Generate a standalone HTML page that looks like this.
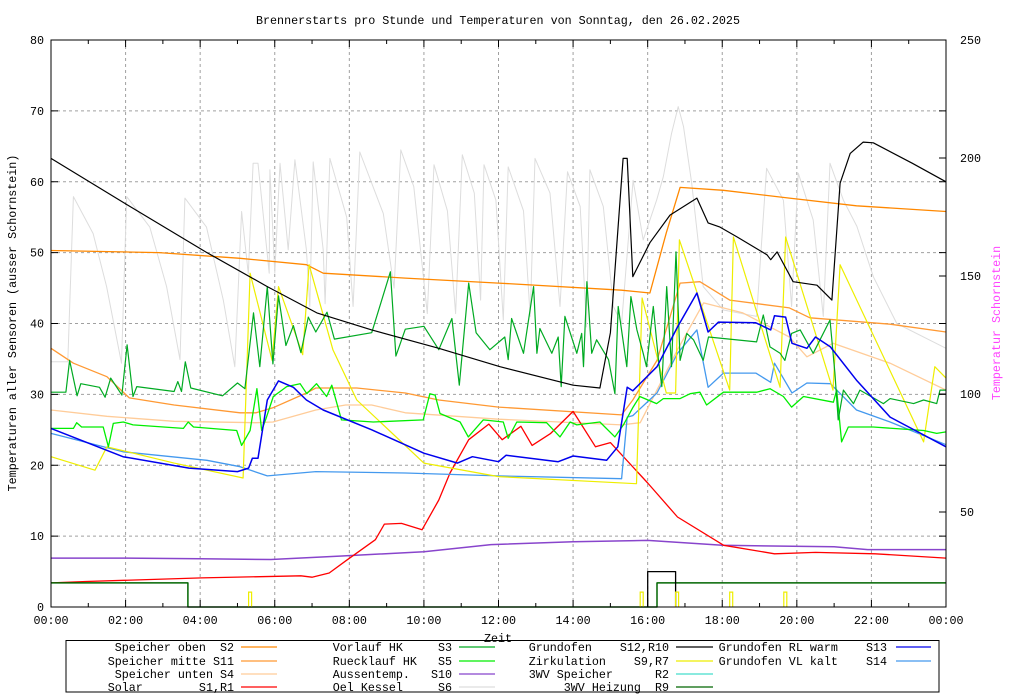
<!DOCTYPE html>
<html><head><meta charset="utf-8">
<style>
html,body{margin:0;padding:0;background:#fff;}
svg{display:block;font-family:"Liberation Mono",monospace;}
</style></head>
<body>
<svg id="chart" width="1024" height="700" viewBox="0 0 1024 700" xmlns="http://www.w3.org/2000/svg">
<rect x="0" y="0" width="1024" height="700" fill="#fff"/>
<text x="498" y="24" font-size="11.7" text-anchor="middle">Brennerstarts pro Stunde und Temperaturen von Sonntag, den 26.02.2025</text>
<g id="grid"></g>
<g id="series"></g>
<g id="axes"></g>
<text transform="translate(16,323) rotate(-90)" font-size="11.7" text-anchor="middle">Temperaturen aller Sensoren (ausser Schornstein)</text>
<text transform="translate(1000,323) rotate(-90)" font-size="11.7" fill="#ff44ff" text-anchor="middle">Temperatur Schornstein</text>
<text x="498" y="642" font-size="11.7" text-anchor="middle">Zeit</text>
<g id="legend"></g>
</svg>
<script>
// ---- data (hour, °C) ----
const xTickLabels = ["00:00","02:00","04:00","06:00","08:00","10:00","12:00","14:00","16:00","18:00","20:00","22:00","00:00"];
const yTicks = [0,10,20,30,40,50,60,70,80];
const y2Ticks = [50,100,150,200,250];

const oelKessel = [[0,34.6],[0.45,34.6],[0.6,57.9],[1.13,52.7],[1.49,45.2],[1.89,34.4],[2.03,57.9],[2.65,53.6],[3.1,45.2],[3.46,34.9],[3.59,57.7],[4.17,53.6],[4.62,43.3],[4.93,33.9],[5.11,55.8],[5.29,47],[5.42,62.6],[5.55,62.6],[5.85,47.1],[5.87,61.7],[6.0,47.1],[6.14,62.6],[6.36,50.4],[6.54,63.1],[6.85,50.4],[6.94,42.4],[7.03,62.8],[7.3,50.4],[7.35,42.8],[7.48,63.3],[7.93,55],[8.1,42.4],[8.28,64.2],[8.91,55.5],[9.2,45],[9.38,64.5],[9.73,59.3],[10.09,41.4],[10.27,62.4],[10.63,55.9],[10.85,41.4],[11.03,63.8],[11.35,58.4],[11.52,43.3],[11.61,62.4],[11.93,57.4],[12.13,40.5],[12.26,62.1],[12.67,55.9],[12.85,41],[12.98,63.3],[13.38,58.4],[13.65,42.4],[13.85,61.4],[14.19,56.5],[14.36,39.5],[14.45,61.7],[14.81,56.5],[15.08,42.4],[15.3,40],[15.61,60.2],[15.88,51.8],[16.24,57.4],[16.42,60.7],[16.64,66.8],[16.82,70.6],[16.96,67.8],[17.18,59.8],[17.49,45.2],[18.03,41.9],[18.92,41],[19.19,61.9],[19.64,57.4],[19.86,42.4],[20.04,61.2],[20.44,54.6],[20.71,41],[20.89,62.6],[21.25,57.4],[21.61,53.7],[22.05,46.6],[22.68,40],[24,36.5]];
const speicherOben = [[0,50.3],[2.9,50],[5.07,49.2],[6.85,48.3],[7.3,47.1],[9.5,46.4],[12,45.7],[15.3,44.7],[16.06,44.3],[16.5,52.8],[16.87,59.2],[18.03,58.8],[19.8,57.7],[21.6,56.6],[24,55.8]];
const speicherMitte = [[0,36.5],[0.6,34.4],[1.5,32.5],[2.1,29.5],[3.3,28.5],[5.07,27.4],[5.5,27.4],[5.95,28.1],[6.85,30.2],[7.1,30.9],[8.2,30.9],[9.5,30.2],[10.4,29.2],[12,28.2],[15.3,27.1],[15.6,29.2],[16.25,34.8],[16.87,45.7],[17.4,45.9],[18.2,43.3],[19.8,42.2],[20.35,40.8],[22.5,39.9],[24,38.8]];
const speicherUnten = [[0,27.8],[1.5,26.9],[3.3,26.2],[5.5,26],[5.95,26.1],[7.1,27.8],[7.9,28.5],[8.6,28.5],[9.5,27.4],[12,26.5],[15.3,25.7],[15.8,26],[16.15,29.6],[16.8,36.3],[17.5,42.9],[18.55,41.5],[19.8,38.1],[20.27,35.3],[20.97,37.2],[22.5,34.4],[24,30.6]];
const solar = [[0,3.4],[0.93,3.6],[4.04,4.1],[6.7,4.4],[7.0,4.2],[7.46,4.8],[7.93,6.6],[8.7,9.5],[8.94,11.7],[9.4,11.8],[9.95,10.9],[10.4,15.1],[10.7,18.9],[11.2,23.6],[11.74,25.8],[12.1,23.6],[12.6,25.5],[12.9,22.8],[13.4,24.5],[14.0,27.6],[14.6,22.6],[15.0,23.2],[16.0,17.5],[16.8,12.7],[18.04,8.7],[19.4,7.5],[20.5,7.7],[22.1,7.5],[24,6.9]];
const aussentemp = [[0,6.9],[2,6.9],[4,6.8],[5.9,6.7],[7.8,7.2],[10,7.8],[11.8,8.8],[14,9.2],[16,9.4],[18,8.7],[21,8.5],[21.9,8.1],[24,8.1]];
const vorlaufHK = [[0,30.3],[0.4,30.3],[0.5,34.8],[0.7,29.8],[0.8,31.5],[1.3,31.0],[1.45,29.6],[1.6,32.3],[1.9,29.9],[2.04,37],[2.2,29.7],[2.3,31.1],[3.3,30.4],[3.4,31.8],[3.5,30.4],[3.6,34.6],[3.75,30.9],[4.6,29.8],[5.0,31.6],[5.2,30.8],[5.43,41.5],[5.6,33.9],[5.8,45.2],[5.95,34.3],[6.1,43.9],[6.3,36.9],[6.5,39.7],[6.7,35.9],[6.9,40.9],[7.1,38.8],[7.4,41.6],[7.6,37.8],[8.6,38.7],[9.1,47.3],[9.25,35.4],[9.5,39.2],[10.0,39.6],[10.4,36.3],[10.75,40.7],[10.95,31.3],[11.2,45.7],[11.4,38.7],[11.77,36.3],[12.17,38.1],[12.26,34.9],[12.35,40.7],[12.67,35.8],[12.94,45.2],[13.03,35.8],[13.11,39.3],[13.43,35.8],[13.6,38.1],[13.68,31.1],[13.78,41],[14.1,35.8],[14.23,38.6],[14.28,33.9],[14.37,45.9],[14.5,35.8],[14.63,37.7],[14.95,34.9],[15.12,30.1],[15.21,42.4],[15.44,33.9],[15.55,43.8],[15.71,39.1],[15.88,35.8],[15.97,33.9],[16.15,42.4],[16.29,34.8],[16.38,31.1],[16.51,45.2],[16.64,33.9],[16.76,50.1],[16.87,34.8],[17.05,38.6],[17.23,37.7],[17.49,34.8],[17.63,38.1],[18.92,37.4],[19.1,41.2],[19.28,36.7],[19.55,35.8],[19.68,34.8],[19.86,38.6],[20.09,39.1],[20.44,35.8],[20.62,37.7],[20.89,40.5],[21.02,33],[21.11,26.4],[21.25,30.6],[21.52,28.7],[21.69,30.6],[22.32,28.7],[22.5,29.4],[23.13,28.7],[23.4,29.2],[23.75,28.7],[23.84,30.6],[24,30.6]];
const ruecklaufHK = [[0,25.2],[0.6,25.2],[0.69,26],[0.82,25.4],[1.4,25.4],[1.54,22.6],[1.67,25.9],[1.94,26.1],[2.2,25.7],[3.55,25.2],[3.68,26.1],[3.82,25.4],[4.98,24.9],[5.11,22.8],[5.34,24.9],[5.52,30.8],[5.65,24.9],[5.78,26.8],[5.96,29.7],[6.32,31.1],[6.68,31.5],[6.86,30.1],[7.12,31.5],[7.39,29.7],[7.53,31.3],[7.79,26.4],[8.64,26.1],[9.98,26.4],[10.16,30.1],[10.3,29.9],[10.43,27.3],[10.97,26.1],[11.19,24.0],[11.59,26.4],[12.13,26.1],[12.26,23.8],[12.49,26.1],[13.29,26],[13.65,24],[13.92,26.1],[14.1,25.7],[14.72,26.1],[15.12,24],[15.35,25.7],[15.61,28.2],[15.79,29.7],[16.24,28.7],[16.42,29.4],[16.87,29.4],[17.14,30.1],[17.4,30.3],[17.58,28.5],[18.03,30.3],[18.92,30.3],[19.28,30.8],[19.64,29.7],[19.86,28.2],[20.18,29.7],[20.98,28.9],[21.07,30.6],[21.2,23.3],[21.38,25.4],[22.05,25.4],[23.4,24.9],[23.75,24.5],[24,24.7]];
const grundofen = [[0,63.3],[1.93,57.1],[4.18,50],[5.8,45.2],[7.13,41.5],[8.6,39.1],[10.4,36.5],[12.04,33.9],[14,31.3],[14.72,30.9],[15.0,38.7],[15.34,63.3],[15.45,63.3],[15.6,46.6],[16.06,51.4],[16.6,55.3],[17.32,57.7],[17.62,54.2],[17.94,53.6],[18.4,52.2],[19.2,49.7],[19.3,49],[19.47,50.1],[19.9,45.9],[20.54,45.4],[20.94,43.3],[21.16,59.8],[21.43,64],[21.78,65.6],[22.05,65.5],[23.1,62.6],[24,60]];
const zirkulation = [[0,21.2],[1.18,19.3],[1.5,22.6],[3.3,20.3],[5.15,18.2],[5.34,47.1],[5.93,34.8],[6.1,45.2],[6.75,35.6],[6.92,48.3],[7.56,36.3],[8.2,29.2],[10,20.3],[12,18.4],[15.7,17.4],[15.85,43.6],[16.5,30.2],[16.75,30.2],[16.85,51.8],[18.2,30.6],[18.3,52.2],[19.55,31],[19.7,52.2],[20.97,30.6],[21.16,48.3],[23.4,23.3],[23.7,33.9],[24,32.3]];
const rlWarm = [[0,25.2],[1.93,21.2],[3.7,19.6],[5.0,19.1],[5.3,19.6],[5.4,21],[5.55,21],[5.8,29.2],[6.1,31.9],[6.5,31.0],[6.85,29.2],[7.3,27.8],[8.6,25],[10,21.7],[10.9,20.3],[11.3,21.2],[12,20.5],[12.2,21.4],[13.6,20.5],[14,21.3],[14.9,20.7],[15.2,22.6],[15.45,31],[15.6,30.5],[16.25,33.9],[16.8,39.5],[17.32,44.3],[17.62,38.8],[17.9,40.2],[18.9,40.1],[19.3,39.1],[19.4,41.1],[19.7,40.9],[19.87,37.2],[20.27,36.5],[20.5,38.1],[20.9,36.7],[21.6,32],[22.5,26.8],[24,22.6]];
const vlKalt = [[0,24.5],[1.93,21.9],[4.18,20.7],[5.07,19.8],[5.8,18.5],[7.1,19.1],[9.5,18.9],[12,18.5],[15.3,18.1],[15.45,26.8],[15.6,27],[16.25,30.2],[16.8,35.8],[17.32,39.1],[17.62,31],[18.03,33],[18.9,33],[19.3,31.7],[19.4,34.4],[19.87,30.2],[20.27,31.6],[20.9,31.5],[21.6,27.8],[22.5,26.1],[24,22.9]];
const heizung3WV = [[0,3.4],[3.67,3.4],[3.67,0],[16.25,0],[16.25,3.4],[24,3.4]];
const brennerR10 = [[16,0],[16,5],[16.75,5],[16.75,0]];
const zirkPulseHours = [5.3,15.8,16.75,18.2,19.65];
const zirkPulseValue = 2.1;

// ---- axes ----
const X0=51, X1=946, Y0=607, Y1=40;
const xs = h => X0 + (X1-X0)*h/24;
const ys = t => Y0 - (Y0-Y1)*t/80;
const y2s = v => 40 + (250-v)*118/50;
const NS="http://www.w3.org/2000/svg";
function mk(tag, attrs, parent){const e=document.createElementNS(NS,tag);for(const k in attrs)e.setAttribute(k,attrs[k]);parent.appendChild(e);return e;}
const grid=document.getElementById('grid'), axes=document.getElementById('axes'), ser=document.getElementById('series'), leg=document.getElementById('legend');

yTicks.forEach((t,i)=>{
  const y=ys(t);
  if(i>0&&i<yTicks.length-1){const g=mk('line',{x1:X0,x2:X1,y1:y,y2:y,stroke:'#a0a0a0','stroke-dasharray':'3,3','stroke-width':1},grid);
  
  }
  mk('line',{x1:X0,x2:X0+7,y1:y,y2:y,stroke:'#000'},axes);
  mk('line',{x1:X1,x2:X1-7,y1:y,y2:y,stroke:'#000'},axes);
  const tx=mk('text',{x:X0-7,y:y+4,'font-size':11.7,'text-anchor':'end'},axes);
  tx.textContent=t;
  
  
});
y2Ticks.forEach(v=>{
  const y=y2s(v);
  mk('line',{x1:X1,x2:X1-7,y1:y,y2:y,stroke:'#000'},axes);
  const tx=mk('text',{x:X1+14,y:y+4,'font-size':11.7},axes);
  tx.textContent=v;
  
  
});
for(let h=0;h<=24;h++){
  const x=xs(h);
  if(h%2===0){
    if(h>0&&h<24){const g=mk('line',{x1:x,x2:x,y1:Y0,y2:Y1,stroke:'#a0a0a0','stroke-dasharray':'3,3'},grid);
    
    }
    mk('line',{x1:x,x2:x,y1:Y0,y2:Y0-7,stroke:'#000'},axes);
    mk('line',{x1:x,x2:x,y1:Y1,y2:Y1+7,stroke:'#000'},axes);
    const tx=mk('text',{x:x,y:624,'font-size':11.7,'text-anchor':'middle'},axes);
    tx.textContent=xTickLabels[h/2];
    
    
  } else {
    mk('line',{x1:x,x2:x,y1:Y0,y2:Y0-4,stroke:'#000'},axes);
    mk('line',{x1:x,x2:x,y1:Y1,y2:Y1+4,stroke:'#000'},axes);
  }
}
const frame=mk('rect',{x:X0,y:Y1,width:X1-X0,height:Y0-Y1,fill:'none',stroke:'#000','stroke-width':1},axes);



function line(data,color,name,w){
  const p=mk('polyline',{points:data.map(d=>xs(d[0]).toFixed(1)+','+ys(d[1]).toFixed(1)).join(' '),fill:'none',stroke:color,'stroke-width':w||1,'stroke-linejoin':'round'},ser);
  
  
}
line(oelKessel,'#dddddd','series-oel-kessel');
line(speicherUnten,'#ffcc99','series-speicher-unten',1.3);
line(speicherMitte,'#ff9933','series-speicher-mitte',1.3);
line(speicherOben,'#ff8800','series-speicher-oben',1.3);
line(aussentemp,'#8844cc','series-aussentemp',1.5);
line(solar,'#ff0000','series-solar',1.3);
line(heizung3WV,'#006600','series-3wv-heizung',1.5);
line(brennerR10,'#000000','series-grundofen-r10',1.3);
zirkPulseHours.forEach(h=>{
  const w=0.08;
  const p=mk('polyline',{points:[[h,0],[h,zirkPulseValue],[h+w,zirkPulseValue],[h+w,0]].map(d=>xs(d[0]).toFixed(1)+','+ys(d[1]).toFixed(1)).join(' '),fill:'none',stroke:'#eeee00','stroke-width':1.2},ser);
  
  
});
line(vlKalt,'#4499ee','series-grundofen-vl-kalt',1.3);
line(zirkulation,'#eeee00','series-zirkulation',1.2);
line(ruecklaufHK,'#00ee00','series-ruecklauf-hk',1.3);
line(vorlaufHK,'#00aa22','series-vorlauf-hk',1.2);
line(rlWarm,'#0000ee','series-grundofen-rl-warm',1.5);
line(grundofen,'#000000','series-grundofen',1.2);

// ---- legend ----
const lb=mk('rect',{x:66,y:640.5,width:873,height:51.5,fill:'none',stroke:'#000'},leg);


const legendLabels=[
 ["Speicher oben  S2","Speicher mitte S11","Speicher unten S4","Solar        S1,R1"],
 ["Vorlauf HK     S3","Ruecklauf HK   S5","Aussentemp.   S10","Oel Kessel     S6"],
 ["Grundofen    S12,R10","Zirkulation    S9,R7","3WV Speicher      R2","3WV Heizung  R9"],
 ["Grundofen RL warm    S13","Grundofen VL kalt    S14"]];
const legendColors=[["#ff8800","#ff9933","#ffcc99","#ff0000"],["#00aa22","#00ee00","#8844cc","#dddddd"],["#000000","#eeee00","#44ddcc","#006600"],["#0000ee","#4499ee"]];
const colTextEnd=[234,452,669,887], colLine=[[241,277],[459,495],[676,713],[896,931]];
const rowY=[647,661,674,687];
legendLabels.forEach((col,ci)=>col.forEach((lab,ri)=>{
  const t=mk('text',{x:colTextEnd[ci],y:rowY[ri]+4,'font-size':11.7,'text-anchor':'end','xml:space':'preserve'},leg);
  t.style.whiteSpace='pre';
  t.textContent=lab;
  
  
  const l=mk('line',{x1:colLine[ci][0],x2:colLine[ci][1],y1:rowY[ri],y2:rowY[ri],stroke:legendColors[ci][ri],'stroke-width':1.3},leg);
  
  
}));
</script>
</body></html>
